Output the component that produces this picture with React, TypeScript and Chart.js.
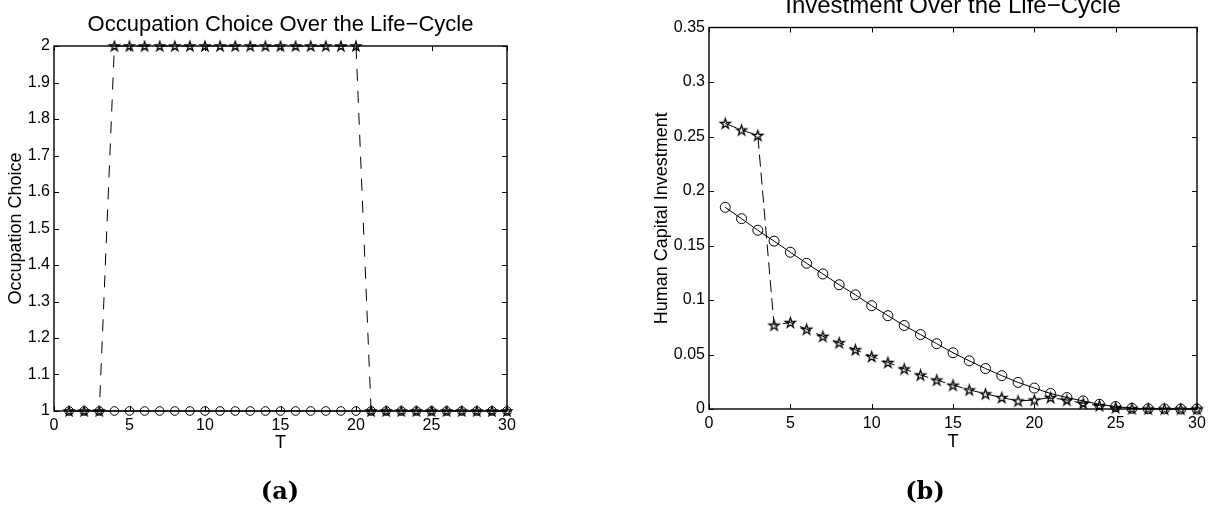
import React, { useEffect, useRef } from "react";
import { Chart, registerables } from "chart.js";

Chart.register(...registerables);

// ---------- data ----------
const periods = [1, 2, 3, 4, 5, 6, 7, 8, 9, 10, 11, 12, 13, 14, 15, 16, 17, 18, 19, 20, 21, 22, 23, 24, 25, 26, 27, 28, 29, 30];

// (a) occupation choice
const occCircle = [1, 1, 1, 1, 1, 1, 1, 1, 1, 1, 1, 1, 1, 1, 1, 1, 1, 1, 1, 1, 1, 1, 1, 1, 1, 1, 1, 1, 1, 1];
const occStar = [1, 1, 1, 2, 2, 2, 2, 2, 2, 2, 2, 2, 2, 2, 2, 2, 2, 2, 2, 2, 1, 1, 1, 1, 1, 1, 1, 1, 1, 1];

// (b) human capital investment
const invCircle = [0.185, 0.1746, 0.164, 0.154, 0.1438, 0.1337, 0.1239, 0.114, 0.1047, 0.0948, 0.0856, 0.0766, 0.0683, 0.0599, 0.0516, 0.0442, 0.0371, 0.0306, 0.0244, 0.0192, 0.0142, 0.0105, 0.0074, 0.0043, 0.0022, 0.0006, 0.0002, 0.0001, 0, 0];
const invStar = [0.262, 0.256, 0.251, 0.0769, 0.0794, 0.0732, 0.0667, 0.0608, 0.0544, 0.0482, 0.0427, 0.0368, 0.0312, 0.0266, 0.0219, 0.0176, 0.0139, 0.0105, 0.0074, 0.0083, 0.0105, 0.0081, 0.0052, 0.0031, 0.0013, 0.0004, 0.0001, 0, 0, 0];

// ticks
const xTicks = [0, 5, 10, 15, 20, 25, 30];
const xTickLabels = ["0", "5", "10", "15", "20", "25", "30"];
const yTicksA = [1, 1.1, 1.2, 1.3, 1.4, 1.5, 1.6, 1.7, 1.8, 1.9, 2];
const yTickLabelsA = ["1", "1.1", "1.2", "1.3", "1.4", "1.5", "1.6", "1.7", "1.8", "1.9", "2"];
const yTicksB = [0, 0.05, 0.1, 0.15, 0.2, 0.25, 0.3, 0.35];
const yTickLabelsB = ["0", "0.05", "0.1", "0.15", "0.2", "0.25", "0.3", "0.35"];

// text
const titleA = "Occupation Choice Over the Life\u2212Cycle";
const titleB = "Investment Over the Life\u2212Cycle";
const yLabelA = "Occupation Choice";
const yLabelB = "Human Capital Investment";
const xLabel = "T";
const captionA = "(a)";
const captionB = "(b)";

const SANS = '"Liberation Sans", Arial, Helvetica, sans-serif';

function makeStar(R: number): HTMLCanvasElement {
  const size = Math.ceil(2 * R + 4);
  const c = document.createElement("canvas");
  c.width = size;
  c.height = size;
  const ctx = c.getContext("2d")!;
  const cx = size / 2;
  const cy = size / 2 + R * 0.09;
  const r = R * 0.382;
  ctx.beginPath();
  for (let i = 0; i < 10; i++) {
    const rad = i % 2 === 0 ? R : r;
    const a = -Math.PI / 2 + (i * Math.PI) / 5;
    const px = cx + rad * Math.cos(a);
    const py = cy + rad * Math.sin(a);
    if (i === 0) ctx.moveTo(px, py);
    else ctx.lineTo(px, py);
  }
  ctx.closePath();
  ctx.strokeStyle = "#000";
  ctx.lineWidth = 1.3;
  ctx.stroke();
  return c;
}

type Geo = {
  yWidth: number;
  padRight: number;
  titleSize: number;
  titleTop: number;
  titleBottom: number;
  yTitlePad: number;
  xHeight: number;
  padBottom: number;
  yMin: number;
  yMax: number;
  dash: number[];
  circleR: number;
  captionX: number;
  captionY: number;
};

const framePlugin = {
  id: "matlabFrame",
  afterDatasetsDraw(chart: any, _args: any, opts: any) {
    const { ctx, chartArea } = chart;
    const { left, right, top, bottom } = chartArea;
    const xs = chart.scales.x;
    const ys = chart.scales.y;
    ctx.save();
    ctx.strokeStyle = "#000";
    ctx.lineWidth = 1;
    const tl = 5;
    ctx.beginPath();
    for (const v of xTicks) {
      const px = Math.round(xs.getPixelForValue(v)) + 0.5;
      ctx.moveTo(px, bottom);
      ctx.lineTo(px, bottom - tl);
      ctx.moveTo(px, top);
      ctx.lineTo(px, top + tl);
    }
    for (const v of opts.yTicks as number[]) {
      const py = Math.round(ys.getPixelForValue(v)) + 0.5;
      ctx.moveTo(left, py);
      ctx.lineTo(left + tl, py);
      ctx.moveTo(right, py);
      ctx.lineTo(right - tl, py);
    }
    ctx.stroke();
    ctx.lineWidth = 1.4;
    ctx.strokeRect(left, top, right - left, bottom - top);
    // caption
    ctx.fillStyle = "#000";
    ctx.font = 'bold 24px "DejaVu Serif", serif';
    ctx.textAlign = "center";
    ctx.textBaseline = "middle";
    ctx.fillText(opts.caption, opts.captionX, opts.captionY);
    ctx.restore();
  },
};

function buildConfig(
  circleData: number[],
  starData: number[],
  yTicks: number[],
  yLabels: string[],
  title: string,
  yLabel: string,
  caption: string,
  g: Geo,
  starImg: HTMLCanvasElement
): any {
  const circlePts = periods.map((t, i) => ({ x: t, y: circleData[i] }));
  const starPts = periods.map((t, i) => ({ x: t, y: starData[i] }));
  return {
    type: "line",
    data: {
      datasets: [
        {
          label: "star",
          data: starPts,
          borderColor: "#000",
          borderWidth: 1,
          borderDash: g.dash,
          pointStyle: starImg,
          pointRadius: 5,
          pointBorderColor: "#000",
          backgroundColor: "transparent",
          fill: false,
          tension: 0,
          clip: false,
        },
        {
          label: "circle",
          data: circlePts,
          borderColor: "#000",
          borderWidth: 1,
          pointStyle: "circle",
          pointRadius: g.circleR,
          pointBorderWidth: 1,
          pointBorderColor: "#000",
          pointBackgroundColor: "transparent",
          backgroundColor: "transparent",
          fill: false,
          tension: 0,
          clip: false,
        },
      ],
    },
    options: {
      animation: false,
      responsive: false,
      events: [],
      layout: { padding: { left: 0, right: g.padRight, top: 0, bottom: g.padBottom } },
      scales: {
        x: {
          type: "linear",
          min: 0,
          max: 30,
          grid: { display: false, drawTicks: false },
          border: { display: false },
          afterBuildTicks: (s: any) => {
            s.ticks = xTicks.map((v) => ({ value: v }));
          },
          afterFit: (s: any) => {
            s.height = g.xHeight;
          },
          ticks: {
            autoSkip: false,
            maxRotation: 0,
            padding: 4.5,
            color: "#000",
            font: { family: SANS, size: 16 },
            callback: (_v: any, i: number) => xTickLabels[i],
          },
          title: {
            display: true,
            text: xLabel,
            color: "#000",
            font: { family: SANS, size: 18 },
            padding: { top: 0, bottom: 0 },
          },
        },
        y: {
          type: "linear",
          min: g.yMin,
          max: g.yMax,
          grid: { display: false, drawTicks: false },
          border: { display: false },
          afterBuildTicks: (s: any) => {
            s.ticks = yTicks.map((v) => ({ value: v }));
          },
          afterFit: (s: any) => {
            s.width = g.yWidth;
          },
          ticks: {
            autoSkip: false,
            padding: 4,
            color: "#000",
            font: { family: SANS, size: 16 },
            callback: (_v: any, i: number) => yLabels[i],
          },
          title: {
            display: true,
            text: yLabel,
            color: "#000",
            font: { family: SANS, size: 18 },
            padding: { top: g.yTitlePad, bottom: 0 },
          },
        },
      },
      plugins: {
        legend: { display: false },
        tooltip: { enabled: false },
        title: {
          display: true,
          text: title,
          fullSize: false,
          color: "#000",
          font: { family: SANS, size: g.titleSize, weight: "normal" },
          padding: { top: g.titleTop, bottom: g.titleBottom },
        },
        matlabFrame: { yTicks, caption, captionX: g.captionX, captionY: g.captionY },
      },
    },
    plugins: [framePlugin],
  };
}

// left canvas: x 0..600 ; right canvas: x 600..1214
const geoA: Geo = {
  yWidth: 54,
  padRight: 93,
  titleSize: 22,
  titleTop: 12,
  titleBottom: 7.6,
  yTitlePad: 5.5,
  xHeight: 42.8,
  padBottom: 58.2,
  yMin: 1,
  yMax: 2,
  dash: [12, 10],
  circleR: 4.3,
  captionX: 280,
  captionY: 493,
};

const geoB: Geo = {
  yWidth: 109,
  padRight: 17,
  titleSize: 24,
  titleTop: -8,
  titleBottom: 6.7,
  yTitlePad: 50.9,
  xHeight: 43.8,
  padBottom: 59.2,
  yMin: 0,
  yMax: 0.35,
  dash: [12, 6],
  circleR: 5,
  captionX: 325,
  captionY: 493,
};

export default function App() {
  const refA = useRef<HTMLCanvasElement>(null);
  const refB = useRef<HTMLCanvasElement>(null);

  useEffect(() => {
    const starA = makeStar(5);
    const starB = makeStar(5.3);
    const a = new Chart(
      refA.current!,
      buildConfig(occCircle, occStar, yTicksA, yTickLabelsA, titleA, yLabelA, captionA, geoA, starA)
    );
    const b = new Chart(
      refB.current!,
      buildConfig(invCircle, invStar, yTicksB, yTickLabelsB, titleB, yLabelB, captionB, geoB, starB)
    );
    return () => {
      a.destroy();
      b.destroy();
    };
  }, []);

  return (
    <div style={{ position: "absolute", left: 0, top: 0, width: 1214, height: 512, background: "#fff" }}>
      <canvas ref={refA} width={600} height={512} style={{ position: "absolute", left: 0, top: 0, width: 600, height: 512 }} />
      <canvas ref={refB} width={614} height={512} style={{ position: "absolute", left: 600, top: 0, width: 614, height: 512 }} />
    </div>
  );
}
